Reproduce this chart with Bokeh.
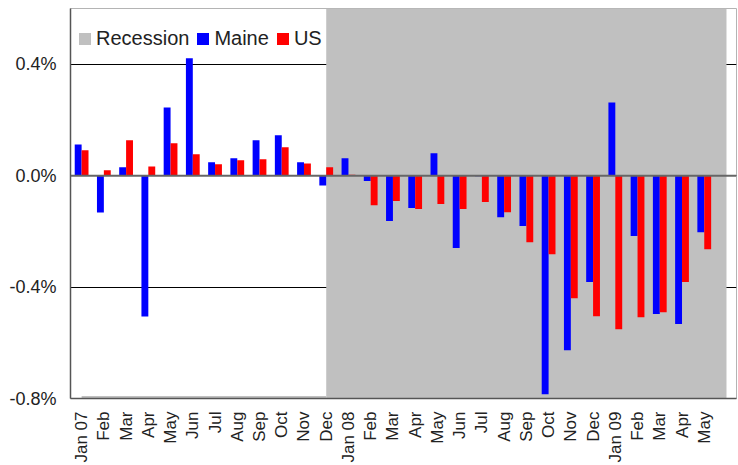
import math
from bokeh.plotting import figure
from bokeh.models import Range1d, FixedTicker, Span, Legend, LegendItem
from bokeh.embed import file_html
from bokeh.resources import INLINE

months = ["Jan 07", "Feb", "Mar", "Apr", "May", "Jun", "Jul", "Aug", "Sep", "Oct", "Nov", "Dec",
          "Jan 08", "Feb", "Mar", "Apr", "May", "Jun", "Jul", "Aug", "Sep", "Oct", "Nov", "Dec",
          "Jan 09", "Feb", "Mar", "Apr", "May"]
maine = [0.112, -0.132, 0.030, -0.506, 0.245, 0.421, 0.048, 0.062, 0.127, 0.145, 0.048, -0.035,
         0.062, -0.019, -0.163, -0.116, 0.080, -0.260, -0.002, -0.149, -0.181, -0.785, -0.627, -0.382,
         0.263, -0.217, -0.497, -0.533, -0.203]
us = [0.091, 0.019, 0.127, 0.033, 0.116, 0.077, 0.041, 0.055, 0.059, 0.102, 0.044, 0.030,
      0.003, -0.106, -0.091, -0.120, -0.102, -0.120, -0.095, -0.131, -0.239, -0.282, -0.440, -0.505,
      -0.551, -0.508, -0.490, -0.382, -0.264]
recession_start = 11  # Dec 07
y_ticks = [-0.8, -0.4, 0.0, 0.4]
y_labels = ["-0.8%", "-0.4%", "0.0%", "0.4%"]

FONT = "Liberation Sans"
n = len(months)
xs = list(range(n))

p = figure(width=738, height=465, output_backend="svg", toolbar_location=None,
           x_range=Range1d(-0.5, 29.45), y_range=Range1d(-0.8, 0.6),
           min_border_left=70, min_border_right=2, min_border_top=8, min_border_bottom=66)
p.outline_line_color = "#b4b4b4"
p.background_fill_color = "white"

# recession shading
rec = p.quad(left=[recession_start], right=[n], bottom=[-0.8], top=[0.6],
             fill_color="#c0c0c0", line_color=None)
p.quad(left=[0], right=[recession_start], bottom=[-0.8], top=[-0.791],
       fill_color="#c0c0c0", line_color=None)

bw = 0.31
r_m = p.vbar(x=[x - bw / 2 for x in xs], top=maine, bottom=0, width=bw,
             fill_color="#0000ff", line_color=None)
r_u = p.vbar(x=[x + bw / 2 for x in xs], top=us, bottom=0, width=bw,
             fill_color="#ff0000", line_color=None)

p.add_layout(Span(location=0, dimension="width", line_color="#666666", line_width=2))

# axes
p.xaxis.ticker = FixedTicker(ticks=xs)
p.xaxis.major_label_overrides = {i: m for i, m in enumerate(months)}
p.xaxis.major_label_orientation = math.pi / 2
p.xaxis.major_label_standoff = 7
p.yaxis.ticker = FixedTicker(ticks=y_ticks)
p.yaxis.major_label_overrides = {t: l for t, l in zip(y_ticks, y_labels)}
p.yaxis.major_label_standoff = 8
for ax in (p.xaxis, p.yaxis):
    ax.major_tick_line_color = None
    ax.minor_tick_line_color = None
    ax.axis_line_color = "#555555"
    ax.axis_line_width = 1.5
    ax.major_label_text_font = FONT
    ax.major_label_text_color = "#222222"
p.xaxis.major_label_text_font_size = "17px"
p.yaxis.major_label_text_font_size = "18px"

p.xgrid.grid_line_color = None
p.ygrid.ticker = FixedTicker(ticks=y_ticks)
p.ygrid.grid_line_color = "black"
p.ygrid.grid_line_width = 1

legend = Legend(items=[LegendItem(label="Recession", renderers=[rec]),
                       LegendItem(label="Maine", renderers=[r_m]),
                       LegendItem(label="US", renderers=[r_u])],
                orientation="horizontal", location="top_left")
legend.margin = 0
legend.padding = 7
legend.label_height = 46
legend.glyph_width = 15
legend.glyph_height = 15
legend.label_standoff = 4
legend.spacing = 6
legend.label_text_font = FONT
legend.label_text_font_size = "20px"
legend.label_text_color = "#222222"
legend.background_fill_alpha = 0
legend.border_line_alpha = 0
p.add_layout(legend)

open("out.html", "w").write(file_html(p, INLINE))
